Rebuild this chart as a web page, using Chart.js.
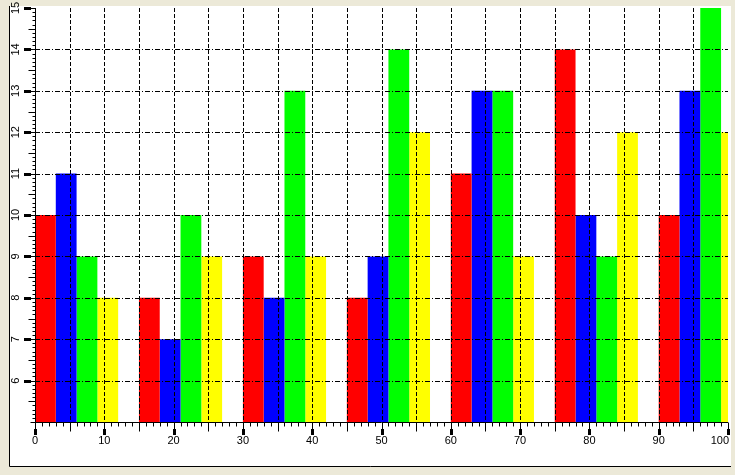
<!DOCTYPE html>
<html><head><meta charset="utf-8">
<script src="https://cdn.jsdelivr.net/npm/chart.js@4/dist/chart.umd.min.js"></script>
<style>
html,body{margin:0;padding:0;background:#ECE9D8;overflow:hidden}
#wrap{position:absolute;left:0;top:0;width:735px;height:475px}
</style></head>
<body><div id="wrap"><canvas id="c" width="735" height="475"></canvas></div>
<script>
// group centre positions on the x axis
const groupX = [6, 21, 36, 51, 66, 81, 96];
const redValues = [10, 8, 9, 8, 11, 14, 10];
const blueValues = [11, 7, 8, 9, 13, 10, 13];
const greenValues = [9, 10, 13, 14, 13, 9, 15];
const yellowValues = [8, 9, 9, 12, 9, 12, 12];
const xTickLabels = ['0','10','20','30','40','50','60','70','80','90','100'];
const yTickLabels = ['6','7','8','9','10','11','12','13','14','15'];

const FONT = {family: 'Liberation Sans', size: 11};

function pts(vals) { return groupX.map((x, i) => ({x: x, y: vals[i]})); }

function noPad(s) { s.paddingLeft = 0; s.paddingRight = 0; s.paddingTop = 0; s.paddingBottom = 0; }

const decor = {
  id: 'decor',
  beforeDraw(chart) {
    const ctx = chart.ctx;
    ctx.save();
    ctx.fillStyle = '#ECE9D8';
    ctx.fillRect(0, 0, chart.width, chart.height);
    ctx.fillStyle = '#FFFFFF';
    ctx.fillRect(9, 6, 722, 461);
    ctx.strokeStyle = '#000000';
    ctx.lineWidth = 1;
    ctx.beginPath();
    ctx.moveTo(9.5, 6); ctx.lineTo(9.5, 466.5); ctx.lineTo(731, 466.5);
    ctx.stroke();
    ctx.restore();
    // keep the last x label inside the panel (right-aligned to the axis end)
    const xs = chart.scales.x;
    const items = xs.getLabelItems();
    if (items.length) {
      const last = items[items.length - 1];
      last.options.textAlign = 'right';
      last.options.translation = [chart.chartArea.right + 1, last.options.translation[1]];
    }
  },
  afterDatasetsDraw(chart) {
    const ctx = chart.ctx;
    const xs = chart.scales.x, ys = chart.scales.y;
    const a = chart.chartArea;
    ctx.save();
    ctx.strokeStyle = '#000000';
    ctx.lineWidth = 1;
    // horizontal dash-dot grid
    ctx.setLineDash([5, 2, 1, 2]);
    for (let v = 6; v <= 14; v++) {
      const y = Math.round(ys.getPixelForValue(v)) + 0.5;
      ctx.beginPath(); ctx.moveTo(a.left, y); ctx.lineTo(a.right, y); ctx.stroke();
    }
    // vertical dashed grid
    ctx.setLineDash([4, 2]);
    for (let v = 5; v < 100; v += 5) {
      const x = Math.round(xs.getPixelForValue(v)) + 0.5;
      ctx.beginPath(); ctx.moveTo(x, a.top); ctx.lineTo(x, a.bottom); ctx.stroke();
    }
    ctx.setLineDash([]);
    // axis lines
    const ax = Math.round(a.left) + 0.5;
    const ay = Math.round(a.bottom) + 0.5;
    ctx.beginPath(); ctx.moveTo(ax, a.top); ctx.lineTo(ax, a.bottom + 1); ctx.stroke();
    ctx.beginPath(); ctx.moveTo(a.left, ay); ctx.lineTo(a.right, ay); ctx.stroke();
    // x ticks
    for (let v = 0; v <= 100; v++) {
      const x = Math.round(xs.getPixelForValue(v)) + 0.5;
      let len = 4;
      if (v % 10 === 0) len = 7; else if (v % 5 === 0) len = 9;
      ctx.beginPath(); ctx.moveTo(x, ay); ctx.lineTo(x, ay + len); ctx.stroke();
      if (v % 10 === 0) {
        ctx.fillStyle = '#000';
        ctx.fillRect(x - 1.5, ay + 6.5, 3, 6);
      }
    }
    // y ticks
    for (let i = 50; i <= 150; i++) {
      const v = i / 10;
      const y = Math.round(ys.getPixelForValue(v)) + 0.5;
      let len = 3;
      if (i % 10 === 0) len = 5; else if (i % 5 === 0) len = 7;
      ctx.beginPath(); ctx.moveTo(ax - len, y); ctx.lineTo(ax, y); ctx.stroke();
      if (i % 10 === 0 && i > 50) {
        ctx.fillStyle = '#000';
        ctx.fillRect(ax - 11.5, y - 1.5, 7, 3);
      }
    }
    ctx.restore();
  }
};

new Chart(document.getElementById('c'), {
  type: 'bar',
  data: {
    datasets: [
      {label: 'Red', data: pts(redValues), backgroundColor: '#FF0000', borderWidth: 0},
      {label: 'Blue', data: pts(blueValues), backgroundColor: '#0000FF', borderWidth: 0},
      {label: 'Green', data: pts(greenValues), backgroundColor: '#00FF00', borderWidth: 0},
      {label: 'Yellow', data: pts(yellowValues), backgroundColor: '#FFFF00', borderWidth: 0}
    ]
  },
  options: {
    responsive: false,
    animation: false,
    devicePixelRatio: 1,
    categoryPercentage: 1.2,
    barPercentage: 1.0,
    layout: {padding: {left: 9, right: 7, top: 8, bottom: 0}},
    plugins: {legend: {display: false}, tooltip: {enabled: false}},
    scales: {
      x: {
        type: 'linear', position: 'bottom', min: 0, max: 100, offset: false,
        grid: {display: false, drawTicks: false},
        border: {display: false},
        ticks: {
          stepSize: 10, autoSkip: false, maxRotation: 0, minRotation: 0,
          padding: 12, color: '#000', font: FONT,
          callback: (v, i) => xTickLabels[i]
        },
        afterFit: s => { s.height = 53; noPad(s); }
      },
      y: {
        type: 'linear', position: 'left', min: 5, max: 15,
        grid: {display: false, drawTicks: false},
        border: {display: false},
        ticks: {
          stepSize: 1, autoSkip: false, minRotation: 90, maxRotation: 90,
          crossAlign: 'center', padding: 13, color: '#000', font: FONT,
          callback: (v, i) => (i === 0 ? '' : yTickLabels[i - 1])
        },
        afterFit: s => { s.width = 26; noPad(s); }
      }
    }
  },
  plugins: [decor]
});
</script>
</body></html>
